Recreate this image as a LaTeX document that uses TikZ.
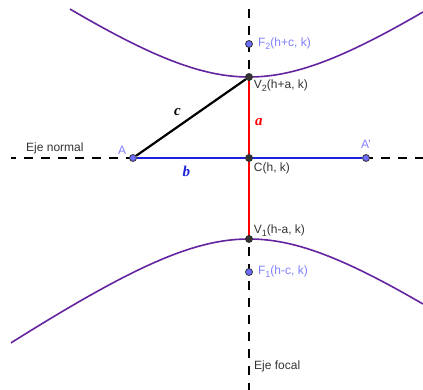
\documentclass[tikz,border=0pt]{standalone}
\usepackage{fontspec}
\setmainfont{Liberation Sans}
\newfontfamily\fuenteSerif{Liberation Serif}
\usetikzlibrary{positioning, backgrounds}
\definecolor{moradoHiperbola}{HTML}{6424A0}
\definecolor{azulPunto}{HTML}{7F7FFF}
\definecolor{grisOscuro}{HTML}{333333}
\definecolor{rojoEje}{HTML}{FF0000}
\definecolor{azulEje}{HTML}{1A22E0}
\colorlet{colTexto}{grisOscuro}
\colorlet{colEtiquetaPunto}{azulPunto}
\newcommand\subindice[1]{\raisebox{-3pt}{\fontsize{9}{10}\selectfont #1}}
\tikzset{
  puntoBase/.style={
    circle, draw=grisOscuro, line width=0.8pt,
    minimum size=7pt, inner sep=0pt
  },
  puntoNegro/.style={puntoBase, fill=grisOscuro},
  puntoAzul/.style={puntoBase, fill=azulPunto!85!blue},
  etiquetaGris/.style={font=\fontsize{12}{14}\selectfont, text=colTexto, inner sep=1pt},
  etiquetaAzul/.style={etiquetaGris, text=colEtiquetaPunto},
  etiquetaSegmento/.style={font=\fuenteSerif\fontsize{15}{17}\selectfont\bfseries\itshape,
    inner sep=1pt},
  ejeDiscontinuo/.style={line width=1.6pt, dash pattern=on 9pt off 8pt},
  rama/.style={moradoHiperbola, line width=1.6pt, samples=120},
  segmento/.style={line width=2.2pt},
}

\begin{document}
\begin{tikzpicture}[x=1pt, y=-1pt]
  \useasboundingbox (0,0) rectangle (423,390);
  % puntos
  \node[puntoNegro] (C) at (249,158) {};
  \node[puntoNegro] (V2) at (249,77) {};
  \node[puntoNegro] (V1) at (249,239) {};
  \node[puntoAzul] (F2) at (249,44) {};
  \node[puntoAzul] (F1) at (249,272) {};
  \node[puntoAzul] (A) at (133,158) {};
  \node[puntoAzul] (Ap) at (366,158) {};

  % etiquetas de los puntos
  \node[etiquetaAzul, right=4pt of F2] (etF2) {F\subindice{2}(h+c, k)};
  \node[etiquetaGris, below right=-1pt and 1pt of V2] (etV2) {V\subindice{2}(h+a, k)};
  \node[etiquetaGris, below right=1pt and 1pt of C] (etC) {C(h, k)};
  \node[etiquetaGris, above right=-1pt and 1pt of V1] (etV1) {V\subindice{1}(h-a, k)};
  \node[etiquetaAzul, right=4pt of F1] (etF1) {F\subindice{1}(h-c, k)};
  \node[etiquetaAzul, above left=0pt and 3pt of A] (etA) {A};
  \node[etiquetaAzul, above=4pt of Ap] (etAp) {A'};
  \node[etiquetaGris, anchor=base west] (etNormal) at (25,152) {Eje normal};
  \node[etiquetaGris, anchor=base west] (etFocal) at (253,369) {Eje focal};

  \begin{scope}[on background layer]
    \coordinate (ejeIzq) at (11,158);
    \coordinate (ejeDer) at (423,158);
    \coordinate (ejeArriba) at (249,9);
    \coordinate (ejeAbajo) at (249,390);
    \draw[ejeDiscontinuo, dash phase=4pt] (ejeIzq) -- (ejeDer);
    \draw[ejeDiscontinuo] (ejeArriba) -- (ejeAbajo);
    % ramas de la hiperbola
    \draw[rama] plot[domain=70:423] (\x, {158-81*sqrt(1+((\x-249)/116)^2)});
    \draw[rama] plot[domain=11:423] (\x, {158+81*sqrt(1+((\x-249)/116)^2)});
    % segmentos a, b, c
    \draw[segmento, azulEje] (A) -- node[etiquetaSegmento, text=azulEje, pos=0.22, below=6pt] {b} (Ap);
    \draw[segmento, rojoEje] (V2) -- node[etiquetaSegmento, text=rojoEje, pos=0.27, right=4pt] {a} (V1);
    \draw[segmento, black] (A) -- node[etiquetaSegmento, black, above left=0pt and 8pt] {c} (V2);
  \end{scope}
\end{tikzpicture}
\end{document}
